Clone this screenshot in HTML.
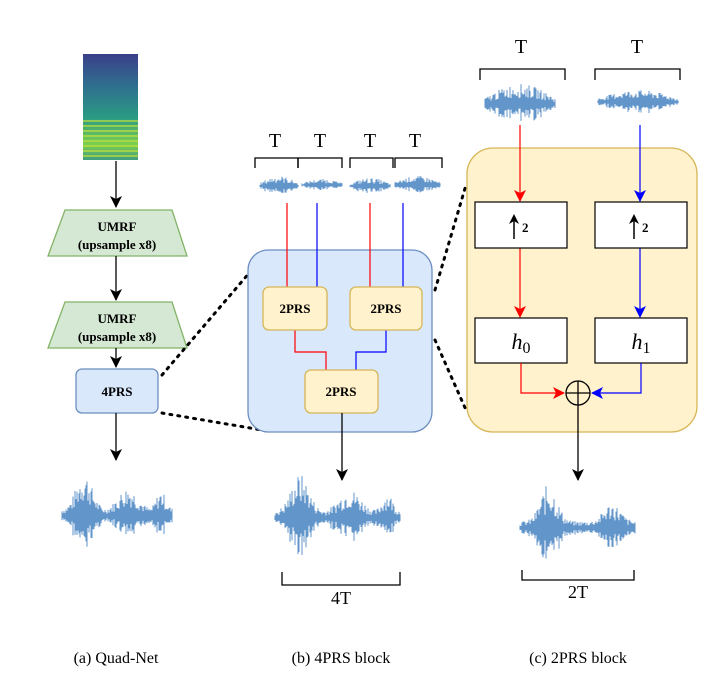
<!DOCTYPE html>
<html><head><meta charset="utf-8"><style>
html,body{margin:0;padding:0;background:#fff;width:711px;height:677px;overflow:hidden}
text{font-family:"Liberation Serif",serif}
</style></head><body>
<svg id="s" width="711" height="677" viewBox="0 0 711 677" xmlns="http://www.w3.org/2000/svg">
<defs>
<marker id="ak" markerWidth="12" markerHeight="12" refX="11" refY="6" orient="auto" markerUnits="userSpaceOnUse"><path d="M0,0 L12,6 L0,12 L3,6z" fill="#000"/></marker>
<marker id="ar" markerWidth="12" markerHeight="12" refX="11" refY="6" orient="auto" markerUnits="userSpaceOnUse"><path d="M0,0 L12,6 L0,12 L3,6z" fill="#f00"/></marker>
<marker id="ab" markerWidth="12" markerHeight="12" refX="11" refY="6" orient="auto" markerUnits="userSpaceOnUse"><path d="M0,0 L12,6 L0,12 L3,6z" fill="#00f"/></marker>
<linearGradient id="sg" x1="0" y1="0" x2="0" y2="1">
<stop offset="0" stop-color="#3b3f8a"/><stop offset="0.3" stop-color="#2f6f8e"/><stop offset="0.6" stop-color="#2a9a84"/><stop offset="0.85" stop-color="#7ccf4e"/><stop offset="1" stop-color="#3f9d80"/></linearGradient>
<pattern id="st" width="4" height="5" patternUnits="userSpaceOnUse"><rect width="4" height="2" fill="#c9e23a" opacity="0.6"/></pattern>
</defs>
<rect x="83" y="54" width="55" height="106" fill="url(#sg)"/>
<rect x="83" y="120" width="55" height="38" fill="url(#st)"/>
<line x1="116" y1="161" x2="116" y2="207" stroke="#000" stroke-width="1.3" marker-end="url(#ak)"/>
<polygon points="65,210 172,210 187,256 48,256" fill="#d5e8d4" stroke="#82b366" stroke-width="1.3"/>
<text x="117" y="231" font-size="13" font-weight="bold" text-anchor="middle">UMRF</text>
<text x="117" y="249" font-size="13" font-weight="bold" text-anchor="middle">(upsample x8)</text>
<line x1="116" y1="256" x2="116" y2="300" stroke="#000" stroke-width="1.3" marker-end="url(#ak)"/>
<polygon points="65,302 172,302 187,348 48,348" fill="#d5e8d4" stroke="#82b366" stroke-width="1.3"/>
<text x="117" y="323" font-size="13" font-weight="bold" text-anchor="middle">UMRF</text>
<text x="117" y="341" font-size="13" font-weight="bold" text-anchor="middle">(upsample x8)</text>
<line x1="116" y1="348" x2="116" y2="367" stroke="#000" stroke-width="1.3" marker-end="url(#ak)"/>
<rect x="76" y="369" width="82" height="44" rx="6" fill="#dae8fc" stroke="#6c8ebf" stroke-width="1.3"/>
<text x="117" y="396" font-size="13" font-weight="bold" text-anchor="middle">4PRS</text>
<line x1="116" y1="413" x2="116" y2="460" stroke="#000" stroke-width="1.3" marker-end="url(#ak)"/>
<g stroke="#000" stroke-width="3" stroke-dasharray="2,6" stroke-linecap="round">
<line x1="162" y1="375" x2="262" y2="258"/><line x1="162" y1="413" x2="262" y2="430"/>
<line x1="435" y1="290" x2="466" y2="185"/><line x1="435" y1="340" x2="466" y2="410"/>
</g>
<rect x="248" y="250" width="184" height="182" rx="20" fill="#dae8fc" stroke="#6c8ebf" stroke-width="1.3"/>
<g font-size="20" text-anchor="middle"><text x="275" y="147">T</text><text x="320" y="147">T</text><text x="370" y="147">T</text><text x="415" y="147">T</text></g>
<g fill="none" stroke="#000" stroke-width="1.3">
<path d="M255,168 V158 H298 V168"/><path d="M298,168 V158 H342 V168"/><path d="M350,168 V158 H393 V168"/><path d="M395,168 V158 H442 V168"/>
</g>
<path d="M287,203 V287" stroke="#f00" stroke-width="1.2"/><path d="M317,203 V287" stroke="#00f" stroke-width="1.2"/>
<path d="M370,203 V287" stroke="#f00" stroke-width="1.2"/><path d="M403,203 V287" stroke="#00f" stroke-width="1.2"/>
<path d="M295,330 V352 H326 V370" fill="none" stroke="#f00" stroke-width="1.2"/>
<path d="M386,330 V352 H356 V370" fill="none" stroke="#00f" stroke-width="1.2"/>
<g fill="#fff2cc" stroke="#d6b656" stroke-width="1.3">
<rect x="263" y="287" width="64" height="43" rx="6"/><rect x="350" y="287" width="72" height="43" rx="6"/><rect x="305" y="370" width="73" height="43" rx="6"/></g>
<g font-size="13" font-weight="bold" text-anchor="middle"><text x="295" y="313">2PRS</text><text x="386" y="313">2PRS</text><text x="341" y="396">2PRS</text></g>
<line x1="342" y1="413" x2="342" y2="480" stroke="#000" stroke-width="1.3" marker-end="url(#ak)"/>
<path d="M282,572 V585 H400 V572" fill="none" stroke="#000" stroke-width="1.3"/>
<text x="341" y="604" font-size="18" text-anchor="middle">4T</text>
<g font-size="20" text-anchor="middle"><text x="521" y="53">T</text><text x="637" y="53">T</text></g>
<path d="M480,80 V69 H565 V80" fill="none" stroke="#000" stroke-width="1.3"/>
<path d="M595,80 V69 H680 V80" fill="none" stroke="#000" stroke-width="1.3"/>
<rect x="467" y="148" width="230" height="284" rx="26" fill="#fff2cc" stroke="#d6b656" stroke-width="1.3"/>
<line x1="520" y1="125" x2="520" y2="201" stroke="#f00" stroke-width="1.2" marker-end="url(#ar)"/>
<line x1="640" y1="125" x2="640" y2="201" stroke="#00f" stroke-width="1.2" marker-end="url(#ab)"/>
<line x1="520" y1="248" x2="520" y2="317" stroke="#f00" stroke-width="1.2" marker-end="url(#ar)"/>
<line x1="640" y1="248" x2="640" y2="317" stroke="#00f" stroke-width="1.2" marker-end="url(#ab)"/>
<g fill="#fff" stroke="#000" stroke-width="1.2">
<rect x="475" y="202" width="92" height="46"/><rect x="595" y="202" width="92" height="46"/>
<rect x="475" y="318" width="92" height="45"/><rect x="595" y="318" width="92" height="45"/></g>
<g stroke="#000" stroke-width="1.5"><line x1="514" y1="239" x2="514" y2="217"/><line x1="634" y1="239" x2="634" y2="217"/></g>
<g fill="#000"><path d="M509,224 L514,214 L519,224 L514,221z"/><path d="M629,224 L634,214 L639,224 L634,221z"/></g>
<g font-size="13" font-weight="bold"><text x="522" y="232">2</text><text x="642" y="232">2</text></g>
<text x="521" y="349" font-size="22" font-style="italic" text-anchor="middle">h<tspan font-style="normal" font-size="16" dy="4">0</tspan></text>
<text x="641" y="349" font-size="22" font-style="italic" text-anchor="middle">h<tspan font-style="normal" font-size="16" dy="4">1</tspan></text>
<path d="M521,363 V393 H564" fill="none" stroke="#f00" stroke-width="1.2" marker-end="url(#ar)"/>
<path d="M641,363 V393 H592" fill="none" stroke="#00f" stroke-width="1.2" marker-end="url(#ab)"/>
<circle cx="578" cy="393" r="12" fill="none" stroke="#000" stroke-width="1.3"/>
<path d="M566,393 H590 M578,381 V405" stroke="#000" stroke-width="1.3"/>
<line x1="578" y1="405" x2="578" y2="480" stroke="#000" stroke-width="1.3" marker-end="url(#ak)"/>
<path d="M522,570 V580 H634 V570" fill="none" stroke="#000" stroke-width="1.3"/>
<text x="578" y="598" font-size="18" text-anchor="middle">2T</text>
<g font-size="16" text-anchor="middle"><text x="116" y="663">(a) Quad-Net</text><text x="341" y="663">(b) 4PRS block</text><text x="578" y="663">(c) 2PRS block</text></g>
<g id="w" stroke="#3b7dbf" stroke-width="1" opacity="0.8"></g>
</svg>
<script>
var g=document.getElementById('w'),seed=7;function r(){seed=(seed*9301+49297)%233280;return seed/233280;}
function wave(x0,x1,cy,amp,env){var s='';for(var x=x0;x<=x1;x+=1){var t=(x-x0)/(x1-x0);var a=amp*env(t)*(0.3+0.7*r());s+='M'+x+','+(cy-a)+'V'+(cy+a*(0.7+0.3*r()));}var p=document.createElementNS('http://www.w3.org/2000/svg','path');p.setAttribute('d',s);g.appendChild(p);}
var e=function(t){return 0.15+0.85*Math.max(Math.exp(-Math.pow((t-0.2)/0.1,2)),0.6*Math.exp(-Math.pow((t-0.6)/0.12,2)),0.5*Math.exp(-Math.pow((t-0.9)/0.06,2)));};
wave(62,172,516,44,e);wave(275,400,518,44,e);
wave(520,635,528,44,function(t){return 0.15+0.85*Math.max(Math.exp(-Math.pow((t-0.25)/0.1,2)),0.5*Math.exp(-Math.pow((t-0.8)/0.1,2)));});
var f=function(t){return 0.3+0.7*Math.sin(Math.PI*t);};
wave(260,298,186,10,f);wave(302,342,185,6,f);wave(350,390,186,8,f);wave(395,440,185,9,f);
wave(485,555,104,20,f);wave(598,678,102,12,f);
</script>
</body></html>
